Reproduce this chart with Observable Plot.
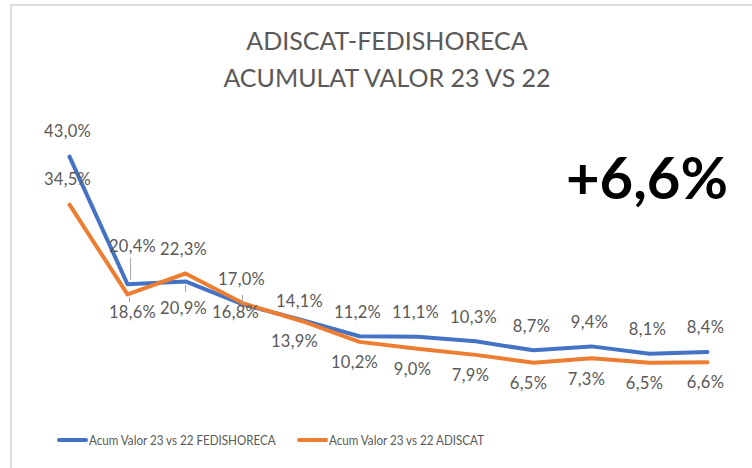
<!DOCTYPE html>
<html><head><meta charset="utf-8">
<script src="https://cdn.jsdelivr.net/npm/d3@7"></script>
<script src="https://cdn.jsdelivr.net/npm/@observablehq/plot@0.6"></script>
<style>
html,body{margin:0;padding:0;background:#fff;overflow:hidden}
#wrap{position:relative;width:752px;height:468px;font-family:Lato,"Open Sans",sans-serif;overflow:hidden}
#frame{position:absolute;left:10px;top:4px;width:800px;height:500px;border-top:2px solid #dedede;border-left:2px solid #dedede}
#title{position:absolute;top:22px;left:11px;width:752px;text-align:center;color:#595959;font-size:25px;line-height:36.5px;white-space:nowrap}
#big{position:absolute;left:647px;top:148px;transform:translateX(-50%);font-size:58px;line-height:1;font-weight:bold;color:#000;white-space:nowrap}
#legend{position:absolute;left:0;top:431px;width:752px;height:18px;font-family:Lato,"Open Sans",sans-serif;font-size:14px;color:#595959;line-height:18px;white-space:nowrap}
#legend .item{position:absolute;top:0;display:flex;align-items:center;height:18px}
#legend .sw{display:inline-block;width:31px;height:4px;border-radius:2px;margin-right:1px}
#legend .lbl{display:inline-block;transform:scaleX(0.83);transform-origin:left center}
#chart{position:absolute;left:0;top:0}
#chart text{letter-spacing:0.3px}
</style></head>
<body>
<div id="wrap">
  <div id="frame"></div>
  <div id="chart"></div>
  <div id="title">ADISCAT-FEDISHORECA<br>ACUMULAT VALOR 23 VS 22</div>
  <div id="big">+6,6%</div>
  <div id="legend"></div>
</div>
<script>
const categories = ["Gen","Feb","Mar","Abr","Mai","Jun","Jul","Ago","Set","Oct","Nov","Des"];
const fedishoreca = [43.0, 20.4, 20.9, 16.8, 14.1, 11.2, 11.1, 10.3, 8.7, 9.4, 8.1, 8.4];
const adiscat = [34.5, 18.6, 22.3, 17.0, 13.9, 10.2, 9.0, 7.9, 6.5, 7.3, 6.5, 6.6];
const seriesNames = ["Acum Valor 23 vs 22 FEDISHORECA", "Acum Valor 23 vs 22 ADISCAT"];
const seriesColors = ["#4472C4", "#ED7D31"];
const bigLabel = "+6,6%";

const fmt = v => v.toFixed(1).replace(".", ",") + "%";

const rows = [];
categories.forEach((c, i) => {
  const a = fedishoreca[i], b = adiscat[i];
  rows.push({cat: c, i, s: 0, series: seriesNames[0], value: a, upper: a >= b});
  rows.push({cat: c, i, s: 1, series: seriesNames[1], value: b, upper: b > a});
});

// label placement (pixel nudges, style only)
function labelDy(r) {
  if (r.i === 0) return -25;
  if (r.upper) return r.i === 1 ? -38 : (r.i === 4 ? -18 : -24);
  if (r.i === 2) return 27;
  if (r.i === 3) return 8;
  if (r.i === 1) return 18;
  return 21;
}
function labelDx(r) {
  if (r.i === 1) return 5;
  if (r.i === 3 && !r.upper) return -8;
  if (r.i === 4 && !r.upper) return -7;
  if (!r.upper && r.i >= 5 && r.i <= 10) return -5;
  return -2;
}
const groups = d3.group(rows, r => labelDy(r) + "|" + labelDx(r));

const W = 752, H = 468;
const mTop = 116.5, mBottom = 69, mLeft = 34.5, mRight = 10.5;
const yMax = 50;
const pxPerUnit = (H - mTop - mBottom) / yMax;

// leader lines: pixel offsets from the point (negative = up)
const leaderSpecs = [
  {i: 1, s: 0, from: -4, to: -26, dx: 3},
  {i: 1, s: 1, from: 3, to: 8, dx: 2},
  {i: 2, s: 0, from: 4, to: 11, dx: 0},
  {i: 3, s: 1, from: -8, to: 0, dx: -1}
];
const leaders = leaderSpecs.map(l => {
  const v = (l.s === 0 ? fedishoreca : adiscat)[l.i];
  return {cat: categories[l.i], y1: v - l.from / pxPerUnit, y2: v - l.to / pxPerUnit, dx: l.dx};
});

const marks = [
  Plot.line(rows, {x: "cat", y: "value", z: "series", stroke: "series", strokeWidth: 4, strokeLinecap: "round", strokeLinejoin: "round"})
];
for (const l of leaders) {
  marks.push(Plot.ruleX([l], {x: "cat", y1: "y1", y2: "y2", stroke: "#a6a6a6", strokeWidth: 1, dx: l.dx}));
}
for (const [key, g] of groups) {
  const [dy, dx] = key.split("|").map(Number);
  marks.push(Plot.text(g, {x: "cat", y: "value", text: d => fmt(d.value), dy, dx, fill: "#595959", fontSize: 16.5, fontFamily: "Lato, 'Open Sans', sans-serif"}));
}

const chart = Plot.plot({
  width: W, height: H,
  marginTop: mTop, marginBottom: mBottom, marginLeft: mLeft, marginRight: mRight,
  x: {type: "point", domain: categories, padding: 0.5, axis: null},
  y: {domain: [0, yMax], axis: null},
  color: {domain: seriesNames, range: seriesColors},
  style: {background: "transparent", overflow: "visible"},
  marks
});
document.getElementById("chart").appendChild(chart);
document.getElementById("big").textContent = bigLabel;

const legend = document.getElementById("legend");
const legendLeft = [57, 297];
seriesNames.forEach((n, k) => {
  const it = document.createElement("span");
  it.className = "item";
  it.style.left = legendLeft[k] + "px";
  const sw = document.createElement("span");
  sw.className = "sw";
  sw.style.background = seriesColors[k];
  const t = document.createElement("span");
  t.className = "lbl";
  t.textContent = n;
  it.appendChild(sw); it.appendChild(t);
  legend.appendChild(it);
});
</script>
</body></html>
